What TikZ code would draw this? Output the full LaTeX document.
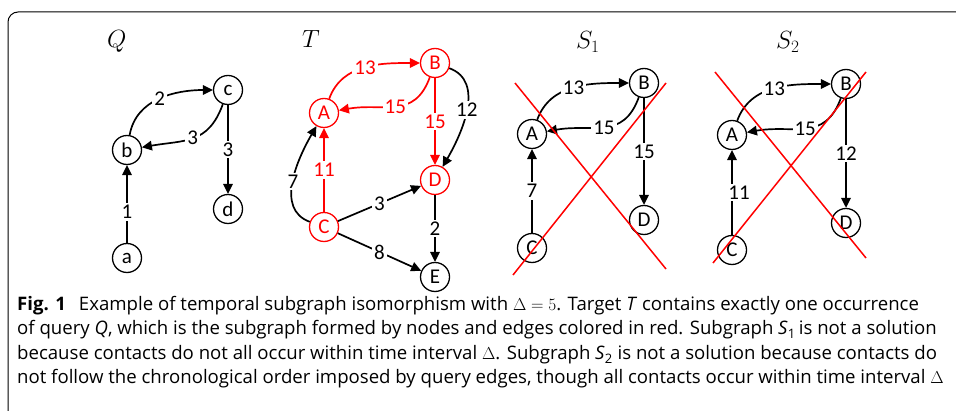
\documentclass[tikz,border=0pt]{standalone}
\usepackage{fontspec}
\setmainfont{Open Sans}
\newfontfamily\calibri{Carlito}
\usetikzlibrary{arrows.meta}
\definecolor{TRed}{RGB}{255,0,0}

\begin{document}
\begin{tikzpicture}[x=1pt,y=1pt,>={Triangle[length=10pt,width=9.5pt]},
  vtx/.style={circle,draw,line width=1.3pt,minimum size=29pt,inner sep=0pt,fill=white,font=\calibri\fontsize{21}{24}\selectfont},
  rvtx/.style={vtx,draw=TRed,text=TRed},
  edg/.style={->,line width=1.7pt},
  redg/.style={edg,draw=TRed},
  lbl/.style={fill=white,inner sep=2pt,font=\calibri\fontsize{21}{24}\selectfont},
  rlbl/.style={lbl,text=TRed},
  ttl/.style={anchor=base west,inner sep=0pt,font=\fontsize{26}{30}\selectfont},
  captxt/.style={anchor=base west,inner sep=0pt,font=\fontsize{18.6}{22}\selectfont},
  cross/.style={TRed,line width=1.5pt}]
\useasboundingbox (0,0) rectangle (956,-411);
\draw[line width=1pt,rounded corners=10pt] (8,-411) -- (8,-12) -- (956,-12);
% query Q
\node[ttl] (qT) at (107,-48) {$Q$};
\node[vtx] (qc) at (228,-90) {c};\node[vtx] (qb) at (127,-150) {b};
\node[vtx] (qd) at (228,-209) {d};\node[vtx] (qa) at (127,-258) {a};
\draw[edg] (qa) -- node[lbl,pos=0.4] {1} (qb);
\draw[edg] (qb) to[out=80,in=180] node[lbl] {2} (qc);
\draw[edg] (qc) to[out=250,in=10,looseness=1.2] node[lbl] {3} (qb);
\draw[edg] (qc) -- node[lbl] {3} (qd);
% target T
\node[ttl] (tT) at (302,-48) {$T$};
\node[rvtx] (tB) at (435,-63) {B};\node[rvtx] (tA) at (324,-113) {A};
\node[rvtx] (tD) at (435,-180) {D};\node[rvtx] (tC) at (324,-227) {C};
\node[vtx] (tE) at (435,-277) {E};
\draw[redg] (tA) to[out=70,in=180] node[rlbl] {13} (tB);
\draw[redg] (tB) to[out=250,in=10,looseness=1.2] node[rlbl] {15} (tA);
\draw[redg] (tB) -- node[rlbl] {15} (tD);
\draw[redg] (tC) -- node[rlbl] {11} (tA);
\draw[edg] (tB) to[out=-20,in=60] node[lbl] {12} (tD);
\draw[edg] (tC) to[out=160,in=240] node[lbl] {7} (tA);
\draw[edg] (tC) -- node[lbl] {3} (tD);
\draw[edg] (tC) -- node[lbl] {8} (tE);
\draw[edg] (tD) -- node[lbl] {2} (tE);
% subgraph S1
\node[ttl] (sT) at (576,-49) {$S_1$};
\node[vtx] (sB) at (644,-83) {B};\node[vtx] (sA) at (532,-134) {A};
\node[vtx] (sD) at (644,-220) {D};\node[vtx] (sC) at (532,-248) {C};
\draw[edg] (sA) to[out=70,in=180] node[lbl] {13} (sB);
\draw[edg] (sB) to[out=250,in=10,looseness=1.2] node[lbl] {15} (sA);
\draw[edg] (sB) -- node[lbl] {15} (sD);
\draw[edg] (sC) -- node[lbl] {7} (sA);
\draw[cross] (515,-83) -- (666,-269);\draw[cross] (513,-275) -- (666,-83);
% subgraph S2
\node[ttl] (uT) at (776,-49) {$S_2$};
\node[vtx] (uB) at (846,-84) {B};\node[vtx] (uA) at (732,-135) {A};
\node[vtx] (uD) at (846,-223) {D};\node[vtx] (uC) at (732,-250) {C};
\draw[edg] (uA) to[out=70,in=180] node[lbl] {13} (uB);
\draw[edg] (uB) to[out=250,in=10,looseness=1.2] node[lbl] {15} (uA);
\draw[edg] (uB) -- node[lbl] {12} (uD);
\draw[edg] (uC) -- node[lbl,xshift=7pt] {11} (uA);
\draw[cross] (715,-72) -- (866,-258);\draw[cross] (713,-263) -- (866,-72);
% caption
\node[captxt] (cap1) at (17,-311) {\textbf{Fig. 1}\hspace{0.7em}Example of temporal subgraph isomorphism with $\Delta=5$. Target \textit{T} contains exactly one occurrence};
\node[captxt] (cap2) at (17,-335) {of query \textit{Q}, which is the subgraph formed by nodes and edges colored in red. Subgraph \textit{S}\textsubscript{1}\,is not a solution};
\node[captxt] (cap3) at (17,-360) {because contacts do not all occur within time interval $\Delta$. Subgraph \textit{S}\textsubscript{2} is not a solution because contacts do};
\node[captxt] (cap4) at (17,-384) {not follow the chronological order imposed by query edges, though all contacts occur within time interval $\Delta$};
\end{tikzpicture}
\end{document}
